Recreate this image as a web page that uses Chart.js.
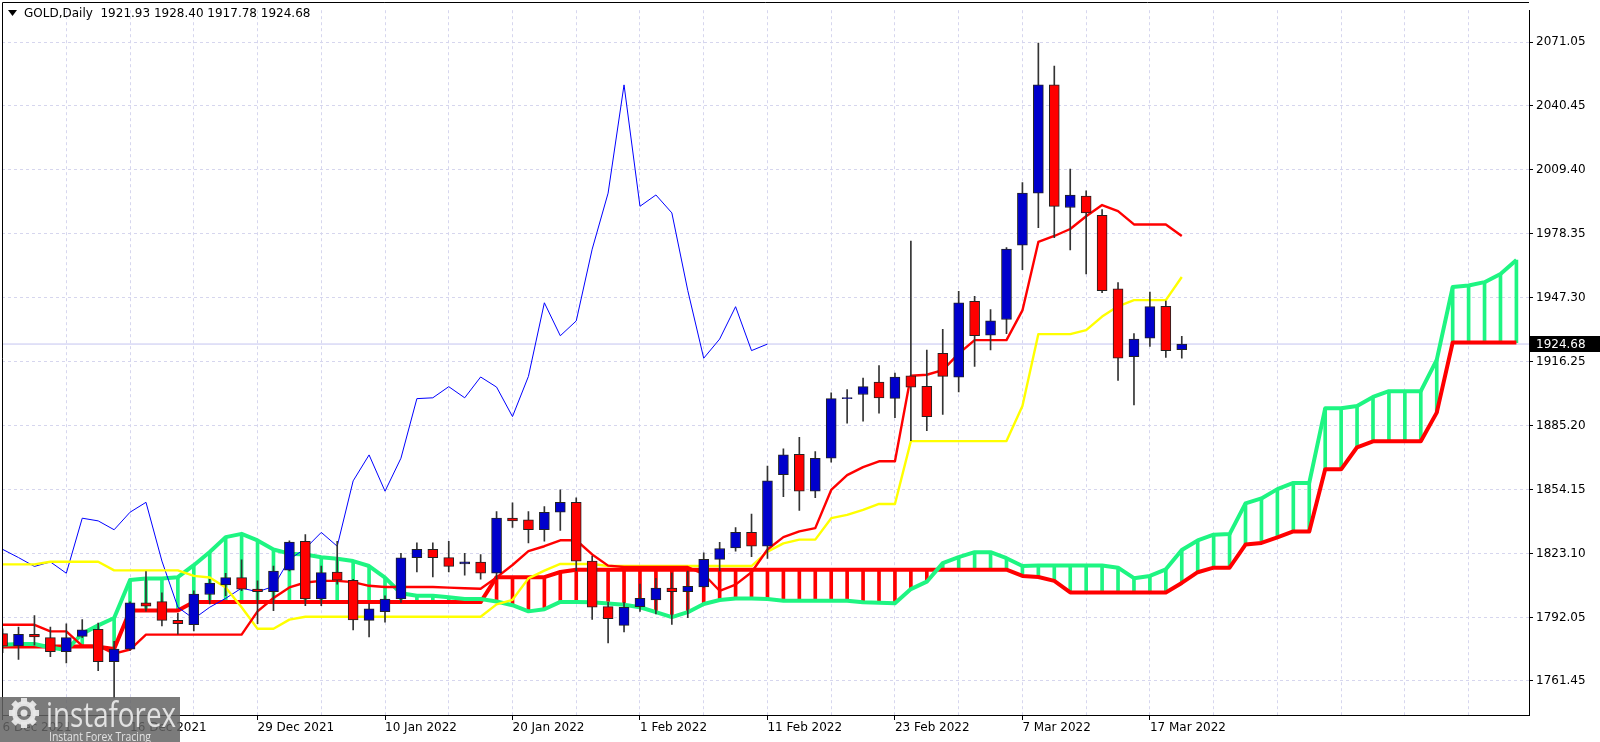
<!DOCTYPE html>
<html><head><meta charset="utf-8">
<script src="https://cdn.jsdelivr.net/npm/chart.js@4.4.1/dist/chart.umd.min.js"></script>
<style>html,body{margin:0;padding:0;background:#fff;overflow:hidden}#wrap{position:relative;width:1600px;height:742px}</style>
</head><body><div id="wrap"><canvas id="c" width="1600" height="742"></canvas></div>
<script>
// ---- data (bar index 0 = 6 Dec 2021) ----
const opens = [1784.2,1778.3,1783.9,1782.3,1775.4,1782.9,1786.3,1770.6,1776.7,1799.1,1799.7,1790.6,1788.5,1803.2,1807.8,1811.4,1805.8,1804.5,1815.0,1829.0,1801.0,1814.1,1810.1,1790.6,1794.9,1801.0,1821.0,1825.1,1821.1,1818.0,1818.9,1813.5,1840.2,1839.4,1834.6,1843.1,1847.9,1819.4,1797.3,1788.2,1797.3,1800.5,1806.3,1804.5,1806.9,1820.2,1825.8,1833.3,1826.6,1861.3,1871.2,1853.3,1869.3,1898.2,1900.2,1906.2,1898.3,1909.3,1904.2,1920.2,1908.6,1945.4,1929.0,1936.6,1972.6,1997.9,2050.4,1990.9,1996.5,1987.1,1951.5,1918.6,1927.5,1943.0,1921.93];
const highs = [1786.5,1787.4,1792.9,1787.4,1789.0,1791.0,1789.3,1780.5,1799.6,1814.3,1804.0,1794.1,1805.0,1810.6,1813.5,1820.0,1809.8,1817.0,1829.2,1832.2,1817.0,1829.0,1810.6,1798.6,1802.6,1823.1,1828.2,1828.2,1829.0,1823.1,1822.6,1843.4,1847.7,1843.4,1845.8,1853.9,1850.1,1821.8,1799.4,1799.4,1808.2,1811.0,1813.6,1814.6,1823.4,1828.5,1835.7,1842.2,1865.5,1873.8,1879.4,1872.5,1901.0,1902.6,1908.2,1914.2,1910.6,1974.6,1921.8,1931.8,1950.2,1947.8,1941.4,1971.5,2003.0,2070.7,2059.5,2009.6,1999.0,1989.9,1954.5,1929.7,1949.9,1945.5,1928.40];
const lows = [1775.0,1771.7,1778.6,1773.0,1770.0,1782.2,1766.2,1753.0,1776.0,1795.1,1787.9,1783.9,1785.5,1798.6,1802.6,1805.0,1789.0,1795.4,1814.6,1797.8,1797.8,1808.2,1786.0,1782.6,1789.8,1799.4,1814.1,1811.7,1814.1,1812.6,1810.6,1810.6,1835.7,1828.2,1829.0,1834.3,1814.6,1791.1,1779.7,1785.0,1795.0,1793.8,1788.7,1791.9,1806.6,1814.6,1824.2,1821.5,1820.7,1850.6,1844.0,1850.1,1867.4,1886.3,1887.3,1891.1,1889.0,1877.8,1882.6,1890.6,1901.4,1913.8,1921.8,1929.7,1960.8,1981.1,1976.3,1970.3,1958.7,1949.6,1907.0,1895.2,1923.5,1918.2,1917.78];
const closes = [1778.1,1783.9,1782.6,1775.4,1782.3,1786.1,1770.6,1776.7,1799.1,1797.5,1790.6,1789.0,1803.4,1808.7,1811.4,1805.8,1804.5,1814.6,1828.6,1801.0,1813.8,1810.1,1790.9,1796.2,1801.0,1821.0,1825.1,1821.1,1816.8,1819.0,1813.5,1840.2,1838.9,1834.6,1843.1,1847.9,1819.4,1797.0,1791.4,1797.0,1801.3,1806.3,1804.5,1807.1,1820.2,1825.5,1833.3,1826.6,1858.3,1870.9,1853.3,1869.3,1898.2,1898.6,1904.0,1898.6,1908.7,1903.8,1889.5,1909.0,1944.7,1928.7,1935.9,1970.7,1997.9,2050.4,1991.5,1997.0,1988.3,1950.6,1917.8,1927.1,1942.8,1921.5,1924.68];
const tenkan = [1788.5,1788.5,1788.5,1785.3,1785.3,1778.3,1778.3,1774.5,1776.5,1783.7,1783.7,1783.7,1783.7,1783.7,1783.7,1783.7,1795.0,1801.5,1806.6,1809.0,1809.8,1809.8,1809.2,1807.4,1806.8,1806.8,1806.8,1806.8,1806.5,1806.2,1806.0,1811.5,1817.5,1824.2,1826.6,1829.5,1829.5,1822.6,1817.2,1816.5,1816.5,1816.5,1816.5,1816.5,1813.0,1805.0,1808.0,1814.0,1825.0,1831.0,1833.8,1835.4,1853.9,1861.1,1865.0,1867.8,1867.8,1909.3,1909.8,1912.0,1920.0,1926.6,1926.6,1926.6,1941.0,1974.2,1977.1,1980.5,1986.7,1992.1,1989.2,1982.7,1982.7,1982.7,1977.1];
const kijun = [1817.8,1817.8,1817.8,1819.1,1819.1,1819.1,1819.1,1814.9,1814.9,1814.9,1814.9,1814.9,1812.2,1811.4,1806.6,1797.0,1786.6,1786.6,1791.0,1792.4,1792.4,1792.4,1792.4,1792.4,1792.4,1792.4,1792.4,1792.4,1792.4,1792.4,1792.4,1798.4,1800.6,1811.0,1814.8,1818.0,1818.0,1818.0,1817.0,1817.0,1817.0,1817.0,1817.0,1817.0,1817.0,1817.0,1817.0,1817.0,1824.0,1828.0,1829.8,1829.8,1840.2,1841.8,1844.2,1847.1,1847.1,1877.6,1877.6,1877.6,1877.6,1877.6,1877.6,1877.6,1894.6,1929.5,1929.5,1929.5,1931.4,1938.0,1943.0,1946.0,1946.0,1946.0,1957.2];
const spanA = [1778.8,1779.2,1779.2,1777.5,1776.2,1784.2,1788.2,1791.8,1810.2,1811.0,1811.0,1811.6,1817.4,1823.8,1831.0,1832.6,1829.4,1825.0,1823.0,1822.6,1821.3,1820.5,1819.4,1817.0,1811.4,1803.8,1802.6,1802.6,1801.8,1801.0,1801.0,1799.8,1798.0,1795.0,1796.0,1799.6,1799.6,1799.4,1798.8,1798.2,1797.0,1794.6,1792.2,1794.6,1798.6,1800.5,1801.2,1801.2,1801.0,1800.2,1800.2,1800.2,1800.2,1800.2,1799.4,1799.2,1798.9,1805.8,1809.4,1818.4,1821.3,1823.7,1823.7,1820.8,1817.0,1817.3,1817.3,1817.3,1817.3,1817.3,1816.2,1811.1,1812.2,1815.4,1824.8,1829.4,1832.2,1832.5,1847.4,1849.8,1854.3,1857.3,1857.3,1893.5,1893.5,1894.6,1899.0,1901.8,1901.8,1901.8,1917.0,1952.3,1953.1,1954.7,1958.7,1965.4];
const spanB = [1777.9,1777.9,1777.9,1777.9,1777.9,1777.9,1777.9,1776.8,1795.4,1795.4,1795.4,1795.4,1799.5,1799.5,1799.5,1799.5,1799.5,1799.5,1799.5,1799.5,1799.5,1799.5,1799.5,1799.5,1799.5,1799.5,1799.5,1799.5,1799.5,1799.5,1799.5,1811.6,1811.6,1811.6,1811.6,1814.1,1815.2,1815.2,1815.2,1815.2,1815.2,1815.2,1815.2,1815.2,1815.2,1815.2,1815.2,1815.2,1815.2,1815.2,1815.2,1815.2,1815.2,1815.2,1815.2,1815.2,1815.2,1815.2,1815.2,1815.2,1815.2,1815.2,1815.2,1815.2,1812.2,1811.7,1809.8,1804.2,1804.2,1804.2,1804.2,1804.2,1804.2,1804.2,1808.8,1814.0,1816.2,1816.2,1827.4,1828.2,1830.9,1833.8,1833.8,1863.9,1863.9,1874.6,1877.5,1877.5,1877.5,1877.5,1891.4,1925.4,1925.4,1925.4,1925.4,1925.4];
const chikou = [1825.1,1821.1,1816.8,1819.0,1813.5,1840.2,1838.9,1834.6,1843.1,1847.9,1819.4,1797.0,1791.4,1797.0,1801.3,1806.3,1804.5,1807.1,1820.2,1825.5,1833.3,1826.6,1858.3,1870.9,1853.3,1869.3,1898.2,1898.6,1904.0,1898.6,1908.7,1903.8,1889.5,1909.0,1944.7,1928.7,1935.9,1970.7,1997.9,2050.4,1991.5,1997.0,1988.3,1950.6,1917.8,1927.1,1942.8,1921.5,1924.68];
const yTicks = [2071.05,2040.45,2009.40,1978.35,1947.30,1916.25,1885.20,1854.15,1823.10,1792.05,1761.45];
const dateIdx = [0,8,16,24,32,40,48,56,64,72];
const dateText = ['6 Dec 2021','16 Dec 2021','29 Dec 2021','10 Jan 2022','20 Jan 2022','1 Feb 2022','11 Feb 2022','23 Feb 2022','7 Mar 2022','17 Mar 2022'];
const gridIdx = [0,4,8,12,16,20,24,28,32,36,40,44,48,52,56,60,64,68,72,76,80,84,88,92];
const lastPrice = 1924.68;
const titleText = 'GOLD,Daily  1921.93 1928.40 1917.78 1924.68';

// ---- styles ----
const BLUE = '#0000cc', RED = '#ff0000', GREEN = 'rgb(30,245,130)', YEL = '#ffff00';
const GRID = '#d6d6ee';
Chart.defaults.font.family = '"DejaVu Sans", sans-serif';
Chart.defaults.font.size = 12;
Chart.defaults.color = '#000';

const pts = arr => arr.map((v, i) => ({x: i, y: v}));
const lineDs = (data, color, w, order) => ({type: 'line', data, borderColor: color, borderWidth: w, pointRadius: 0, tension: 0, fill: false, order, borderJoinStyle: 'round'});

const datasets = [
  {type: 'bar', data: opens.map((o, i) => ({x: i, y: [o, closes[i]]})),
   backgroundColor: opens.map((o, i) => closes[i] >= o ? BLUE : RED),
   borderColor: '#222', borderWidth: 1, borderSkipped: false, barThickness: 10, grouped: false, order: 0, minBarLength: 1},
  {type: 'bar', data: lows.map((l, i) => ({x: i, y: [l, highs[i]]})),
   backgroundColor: '#333', barThickness: 1, grouped: false, order: 1},
  lineDs(pts(tenkan), RED, 2.4, 2),
  lineDs(pts(kijun), YEL, 2.4, 3),
  lineDs(pts(chikou), '#0000ff', 1, 4),
  lineDs(pts(spanA), GREEN, 4, 5),
  lineDs(pts(spanB), RED, 4, 6),
  {type: 'bar', data: spanA.map((a, i) => ({x: i, y: [a, spanB[i]]})),
   backgroundColor: spanA.map((a, i) => a >= spanB[i] ? GREEN : RED),
   barThickness: 3, grouped: false, order: 10, minBarLength: 0},
  lineDs([{x: -1, y: lastPrice}, {x: 97, y: lastPrice}], '#c4c4f0', 1, 11)
];

const xMin = -0.036, xMax = 95.79;

const deco = {
  id: 'deco',
  afterDraw(chart) {
    const ctx = chart.ctx, ca = chart.chartArea, ys = chart.scales.y;
    ctx.save();
    // frame
    ctx.strokeStyle = '#000'; ctx.lineWidth = 1;
    ctx.beginPath(); ctx.moveTo(2.5, ca.bottom); ctx.lineTo(2.5, 2.5); ctx.lineTo(ca.right, 2.5); ctx.stroke();
    // title
    ctx.fillStyle = '#000';
    ctx.beginPath(); ctx.moveTo(8, 10); ctx.lineTo(17, 10); ctx.lineTo(12.5, 16); ctx.closePath(); ctx.fill();
    ctx.font = '12px "DejaVu Sans"'; ctx.textBaseline = 'middle'; ctx.textAlign = 'left';
    ctx.fillText(titleText, 24, 14);
    // price label
    const py = Math.round(ys.getPixelForValue(lastPrice));
    ctx.fillStyle = '#000'; ctx.fillRect(ca.right + 1, py - 8, 1600 - ca.right, 16);
    ctx.fillStyle = '#fff'; ctx.fillText(lastPrice.toFixed(2), 1536, py + 0.5);
    // watermark
    ctx.fillStyle = 'rgba(100,100,100,0.85)';
    ctx.fillRect(0, 697, 180, 45);
    ctx.fillStyle = 'rgba(232,232,232,0.95)'; ctx.strokeStyle = 'rgba(232,232,232,0.95)';
    const gx = 24, gy = 713;
    for (let k = 0; k < 8; k++) {
      const a = k * Math.PI / 4;
      ctx.save(); ctx.translate(gx, gy); ctx.rotate(a); ctx.fillRect(-3, -15, 6, 6); ctx.restore();
    }
    ctx.lineWidth = 5; ctx.beginPath(); ctx.arc(gx, gy, 9.5, 0, Math.PI * 2); ctx.stroke();
    ctx.beginPath(); ctx.arc(gx, gy, 3.5, 0, Math.PI * 2); ctx.fill();
    ctx.font = '35px "Open Sans"'; ctx.textBaseline = 'alphabetic';
    ctx.fillText('instaforex', 46, 727, 130);
    ctx.font = '12px "Open Sans"';
    ctx.fillText('Instant Forex Tracing', 49, 741, 102);
    ctx.restore();
  }
};

new Chart(document.getElementById('c'), {
  type: 'bar',
  data: {datasets},
  options: {
    responsive: false, devicePixelRatio: 1, animation: false,
    layout: {padding: {left: 2, top: 3, right: 0, bottom: 0}},
    plugins: {legend: {display: false}, tooltip: {enabled: false}},
    scales: {
      x: {
        type: 'linear', min: xMin, max: xMax, offset: false,
        afterBuildTicks: s => { s.ticks = gridIdx.map(v => ({value: v})); },
        afterFit: s => { s.height = 27; },
        grid: {offset: false, color: GRID, tickLength: 5, tickBorderDash: [],
               tickColor: c => dateIdx.includes(c.tick && c.tick.value) ? '#000' : 'rgba(0,0,0,0)'},
        border: {color: '#000', dash: [3, 3]},
        ticks: {autoSkip: false, maxRotation: 0, minRotation: 0, align: 'start', padding: 1, color: '#000',
                callback: v => { const k = dateIdx.indexOf(v); return k >= 0 ? dateText[k] : ''; }}
      },
      y: {
        type: 'linear', position: 'right', min: 1744.73, max: 2086.63,
        afterBuildTicks: s => { s.ticks = yTicks.map(v => ({value: v})); },
        afterFit: s => { s.width = 71; },
        grid: {color: GRID, tickLength: 4, tickColor: '#000', tickBorderDash: []},
        border: {color: '#000', dash: [3, 3]},
        ticks: {autoSkip: false, padding: 3, color: '#000', callback: v => Number(v).toFixed(2)}
      }
    }
  },
  plugins: [deco]
});
</script>
</body></html>
